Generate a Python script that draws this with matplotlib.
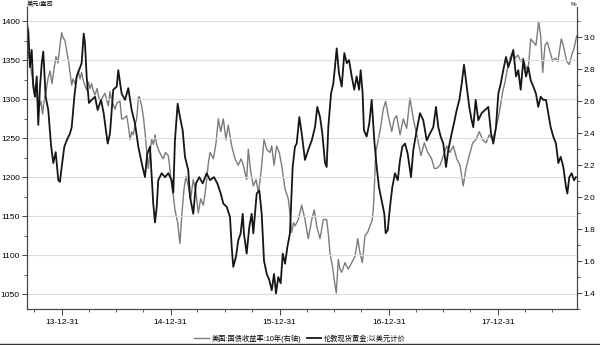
import pandas as pd
import matplotlib
matplotlib.use("Agg")
import matplotlib.pyplot as plt
import matplotlib.dates as mdates
from matplotlib.ticker import MultipleLocator, FormatStrFormatter
from matplotlib.lines import Line2D

plt.rcParams['font.family'] = ['Liberation Sans', 'Noto Sans CJK SC', 'DejaVu Sans']

# London spot gold, USD/oz (left axis) - time as decimal year
gold_t = [2013.679, 2013.694, 2013.709, 2013.725, 2013.739, 2013.755, 2013.771, 2013.785, 2013.801, 2013.817,
          2013.831, 2013.853, 2013.877, 2013.902, 2013.923, 2013.945, 2013.969, 2013.984, 2014.000, 2014.024,
          2014.046, 2014.076, 2014.092, 2014.116, 2014.138, 2014.159, 2014.183, 2014.202, 2014.214, 2014.229,
          2014.250, 2014.275, 2014.306, 2014.330, 2014.361, 2014.385, 2014.422, 2014.443, 2014.473, 2014.505,
          2014.519, 2014.550, 2014.581, 2014.611, 2014.642, 2014.672, 2014.703, 2014.734, 2014.764, 2014.785,
          2014.810, 2014.831, 2014.840, 2014.856, 2014.872, 2014.886, 2014.917, 2014.948, 2014.978, 2015.009,
          2015.024, 2015.039, 2015.064, 2015.085, 2015.110, 2015.131, 2015.161, 2015.177, 2015.207, 2015.232,
          2015.262, 2015.294, 2015.330, 2015.361, 2015.397, 2015.428, 2015.459, 2015.483, 2015.514, 2015.544,
          2015.560, 2015.574, 2015.599, 2015.620, 2015.642, 2015.661, 2015.672, 2015.697, 2015.721, 2015.743,
          2015.758, 2015.789, 2015.813, 2015.835, 2015.856, 2015.881, 2015.905, 2015.927, 2015.948, 2015.966,
          2015.987, 2016.009, 2016.028, 2016.049, 2016.070, 2016.094, 2016.119, 2016.140, 2016.156, 2016.180,
          2016.202, 2016.232, 2016.262, 2016.294, 2016.324, 2016.345, 2016.370, 2016.391, 2016.416, 2016.431,
          2016.446, 2016.471, 2016.492, 2016.507, 2016.523, 2016.544, 2016.569, 2016.593, 2016.615, 2016.636,
          2016.661, 2016.684, 2016.706, 2016.728, 2016.743, 2016.761, 2016.773, 2016.798, 2016.822, 2016.844,
          2016.868, 2016.890, 2016.911, 2016.936, 2016.960, 2016.972, 2016.991, 2017.012, 2017.033, 2017.058,
          2017.083, 2017.104, 2017.125, 2017.150, 2017.174, 2017.205, 2017.226, 2017.257, 2017.287, 2017.317,
          2017.349, 2017.379, 2017.409, 2017.434, 2017.455, 2017.477, 2017.501, 2017.526, 2017.547, 2017.578,
          2017.599, 2017.624, 2017.648, 2017.670, 2017.691, 2017.716, 2017.739, 2017.761, 2017.776, 2017.798,
          2017.822, 2017.853, 2017.883, 2017.914, 2017.939, 2017.960, 2017.984, 2018.006, 2018.028, 2018.051,
          2018.076, 2018.097, 2018.119, 2018.143, 2018.168, 2018.189, 2018.211, 2018.235, 2018.260, 2018.281,
          2018.303, 2018.327, 2018.351, 2018.372, 2018.394, 2018.418, 2018.443, 2018.464, 2018.486, 2018.510,
          2018.535, 2018.556, 2018.578, 2018.602, 2018.627, 2018.639, 2018.657, 2018.679, 2018.700, 2018.718]
gold = [1399, 1386, 1341, 1363, 1316, 1303, 1329, 1267, 1316, 1346,
        1361, 1303, 1286, 1241, 1218, 1232, 1196, 1194, 1213, 1239,
        1247, 1256, 1264, 1303, 1329, 1337, 1346, 1384, 1371, 1329,
        1295, 1299, 1303, 1286, 1299, 1282, 1243, 1256, 1312, 1316,
        1337, 1307, 1299, 1314, 1286, 1269, 1239, 1218, 1200, 1230,
        1239, 1187, 1166, 1142, 1162, 1196, 1205, 1200, 1205, 1196,
        1180, 1247, 1294, 1277, 1260, 1226, 1209, 1175, 1153, 1192,
        1200, 1192, 1205, 1196, 1200, 1192, 1179, 1166, 1162, 1149,
        1110, 1085, 1098, 1119, 1128, 1153, 1128, 1102, 1136, 1153,
        1128, 1179, 1183, 1153, 1093, 1076, 1068, 1055, 1076, 1051,
        1072, 1064, 1102, 1089, 1110, 1128, 1213, 1239, 1243, 1277,
        1256, 1222, 1235, 1247, 1264, 1290, 1277, 1256, 1218, 1213,
        1264, 1307, 1320, 1341, 1365, 1333, 1316, 1359, 1346, 1350,
        1329, 1312, 1329, 1312, 1337, 1307, 1260, 1252, 1269, 1299,
        1247, 1213, 1187, 1170, 1153, 1128, 1132, 1162, 1187, 1205,
        1196, 1222, 1239, 1243, 1230, 1200, 1235, 1260, 1282, 1273,
        1247, 1256, 1264, 1290, 1264, 1252, 1243, 1213, 1235, 1256,
        1269, 1286, 1299, 1320, 1344, 1316, 1290, 1273, 1264, 1299,
        1273, 1282, 1286, 1290, 1256, 1243, 1264, 1307, 1320, 1337,
        1354, 1341, 1350, 1363, 1329, 1337, 1312, 1350, 1329, 1341,
        1324, 1316, 1307, 1290, 1303, 1299, 1299, 1282, 1264, 1252,
        1243, 1218, 1226, 1213, 1187, 1179, 1200, 1205, 1196, 1200]

# US 10-year treasury yield, % (right axis)
yield_t = [2013.682, 2013.700, 2013.718, 2013.737, 2013.755, 2013.773, 2013.792, 2013.810, 2013.824, 2013.838,
           2013.856, 2013.874, 2013.893, 2013.911, 2013.929, 2013.948, 2013.966, 2013.984, 2014.000, 2014.012,
           2014.030, 2014.049, 2014.061, 2014.076, 2014.092, 2014.104, 2014.122, 2014.140, 2014.152, 2014.168,
           2014.183, 2014.198, 2014.214, 2014.229, 2014.246, 2014.260, 2014.275, 2014.292, 2014.306, 2014.324,
           2014.342, 2014.361, 2014.379, 2014.397, 2014.416, 2014.428, 2014.443, 2014.461, 2014.489, 2014.507,
           2014.535, 2014.550, 2014.565, 2014.596, 2014.613, 2014.627, 2014.642, 2014.657, 2014.672, 2014.688,
           2014.703, 2014.712, 2014.734, 2014.750, 2014.764, 2014.778, 2014.794, 2014.810, 2014.826, 2014.842,
           2014.856, 2014.872, 2014.886, 2014.906, 2014.932, 2014.952, 2014.978, 2014.994, 2015.009, 2015.026,
           2015.039, 2015.064, 2015.076, 2015.085, 2015.101, 2015.122, 2015.140, 2015.161, 2015.183, 2015.207,
           2015.232, 2015.253, 2015.275, 2015.299, 2015.315, 2015.330, 2015.347, 2015.361, 2015.391, 2015.416,
           2015.437, 2015.459, 2015.483, 2015.507, 2015.528, 2015.560, 2015.590, 2015.620, 2015.645, 2015.666,
           2015.697, 2015.712, 2015.734, 2015.758, 2015.783, 2015.804, 2015.819, 2015.835, 2015.856, 2015.881,
           2015.911, 2015.927, 2015.948, 2015.972, 2015.996, 2016.018, 2016.049, 2016.079, 2016.094, 2016.110,
           2016.127, 2016.140, 2016.171, 2016.202, 2016.232, 2016.262, 2016.294, 2016.317, 2016.339, 2016.370,
           2016.400, 2016.431, 2016.448, 2016.461, 2016.483, 2016.501, 2016.519, 2016.538, 2016.553, 2016.569,
           2016.599, 2016.629, 2016.661, 2016.691, 2016.716, 2016.737, 2016.758, 2016.783, 2016.807, 2016.828,
           2016.850, 2016.861, 2016.870, 2016.881, 2016.905, 2016.929, 2016.950, 2016.972, 2016.996, 2017.028,
           2017.051, 2017.073, 2017.104, 2017.134, 2017.165, 2017.195, 2017.226, 2017.257, 2017.296, 2017.327,
           2017.358, 2017.394, 2017.418, 2017.440, 2017.471, 2017.501, 2017.532, 2017.562, 2017.593, 2017.624,
           2017.654, 2017.684, 2017.709, 2017.739, 2017.771, 2017.801, 2017.831, 2017.862, 2017.893, 2017.923,
           2017.954, 2017.984, 2018.015, 2018.046, 2018.067, 2018.088, 2018.113, 2018.138, 2018.161, 2018.186,
           2018.211, 2018.235, 2018.260, 2018.284, 2018.303, 2018.327, 2018.351, 2018.376, 2018.394, 2018.413,
           2018.434, 2018.455, 2018.480, 2018.505, 2018.528, 2018.553, 2018.583, 2018.602, 2018.633, 2018.657,
           2018.679, 2018.700, 2018.725]
yields = [2.95, 2.88, 2.80, 2.72, 2.66, 2.62, 2.56, 2.60, 2.52, 2.60,
          2.66, 2.74, 2.79, 2.71, 2.80, 2.88, 2.84, 2.95, 3.03, 3.00,
          2.98, 2.90, 2.86, 2.78, 2.70, 2.74, 2.71, 2.76, 2.79, 2.74,
          2.78, 2.73, 2.70, 2.67, 2.72, 2.68, 2.71, 2.66, 2.64, 2.68,
          2.62, 2.60, 2.63, 2.65, 2.60, 2.57, 2.66, 2.60, 2.55, 2.59,
          2.60, 2.49, 2.49, 2.51, 2.44, 2.36, 2.41, 2.39, 2.45, 2.49,
          2.62, 2.63, 2.57, 2.50, 2.41, 2.30, 2.18, 2.28, 2.36, 2.33,
          2.39, 2.33, 2.30, 2.27, 2.24, 2.28, 2.26, 2.17, 2.07, 2.00,
          1.92, 1.84, 1.76, 1.71, 1.88, 2.05, 2.13, 2.07, 1.99, 2.11,
          2.03, 1.90, 1.99, 1.95, 2.02, 2.11, 2.22, 2.28, 2.24, 2.34,
          2.49, 2.41, 2.49, 2.36, 2.45, 2.32, 2.24, 2.20, 2.24, 2.20,
          2.11, 2.30, 2.16, 2.07, 2.11, 2.03, 2.10, 2.20, 2.36, 2.30,
          2.28, 2.32, 2.20, 2.32, 2.28, 2.20, 2.05, 1.99, 1.90, 1.78,
          1.84, 1.82, 1.86, 1.95, 1.86, 1.74, 1.86, 1.92, 1.82, 1.74,
          1.86, 1.86, 1.76, 1.65, 1.57, 1.48, 1.40, 1.61, 1.55, 1.53,
          1.59, 1.55, 1.59, 1.63, 1.74, 1.65, 1.59, 1.76, 1.78, 1.82,
          1.86, 1.95, 2.09, 2.28, 2.36, 2.45, 2.55, 2.60, 2.51, 2.41,
          2.49, 2.51, 2.39, 2.49, 2.43, 2.62, 2.49, 2.39, 2.26, 2.34,
          2.28, 2.24, 2.18, 2.18, 2.20, 2.26, 2.32, 2.28, 2.32, 2.24,
          2.20, 2.07, 2.18, 2.26, 2.34, 2.36, 2.41, 2.36, 2.34, 2.39,
          2.36, 2.43, 2.53, 2.66, 2.72, 2.80, 2.87, 2.91, 2.87, 2.89,
          2.85, 2.87, 2.80, 2.83, 2.99, 2.97, 2.95, 3.10, 3.01, 2.78,
          2.95, 2.97, 2.91, 2.85, 2.87, 2.85, 2.99, 2.95, 2.85, 2.83,
          2.89, 2.93, 3.01]

gold_label = "伦敦现货黄金:以美元计价"
yield_label = "美国:国债收益率:10年(右轴)"


def to_dates(years):
    s = pd.Series(years)
    base = pd.Timestamp("2013-12-31")
    return base + pd.to_timedelta((s - 2014.0) * 365.25, unit="D")


gold_dates = to_dates(gold_t)
yield_dates = to_dates(yield_t)

fig = plt.figure(figsize=(6.0, 3.45), dpi=100)
ax = fig.add_axes([0.0445, 0.1043, 0.9167, 0.8754])
ax2 = ax.twinx()

# gold line drawn above the yield line
ax.set_zorder(ax2.get_zorder() + 1)
ax.patch.set_visible(False)

ax2.plot(yield_dates, yields, color="#7c7c7c", lw=1.0, label=yield_label)
ax.plot(gold_dates, gold, color="#161616", lw=1.3, label=gold_label)

ax.set_xlim(to_dates([2013.679])[0], to_dates([2018.725])[0])
ax.set_ylim(1031, 1418)
ax2.set_ylim(1.30, 3.19)

# axes styling
ax.yaxis.set_major_locator(MultipleLocator(50))
ax.yaxis.set_minor_locator(MultipleLocator(25))
ax.grid(axis="y", color="#dcdcdc", lw=0.8)
ax.set_axisbelow(True)
ax2.yaxis.set_major_locator(MultipleLocator(0.2))
ax2.yaxis.set_minor_locator(MultipleLocator(0.1))
ax2.yaxis.set_major_formatter(FormatStrFormatter("%.1f"))

ax.xaxis.set_major_locator(mdates.MonthLocator(bymonth=12, bymonthday=31))
ax.xaxis.set_minor_locator(mdates.MonthLocator(bymonth=[3, 6, 9], bymonthday=-1))
ax.xaxis.set_major_formatter(mdates.DateFormatter("%y-%m-%d"))

for a in (ax, ax2):
    a.spines["top"].set_visible(False)
    for s in ("left", "right", "bottom"):
        a.spines[s].set_color("#444444")
        a.spines[s].set_linewidth(0.8)
    a.tick_params(which="major", length=3.5, width=0.7, color="#444444", labelsize=6, pad=1.5)
    a.tick_params(which="minor", length=2, width=0.6, color="#444444")
ax.tick_params(axis="x", which="major", length=4, pad=3)

ax.text(0.0, 1.0, "美元/盎司", transform=ax.transAxes, fontsize=4.5, ha="left", va="bottom")
ax2.text(1.0, 1.0, "%", transform=ax2.transAxes, fontsize=4.5, ha="right", va="bottom")

handles = [Line2D([], [], color="#7c7c7c", lw=1.0), Line2D([], [], color="#161616", lw=1.3)]
fig.legend(handles, [yield_label, gold_label], loc="lower center", bbox_to_anchor=(0.5, -0.012),
           ncol=2, frameon=False, fontsize=5.2, handlelength=2.0, handletextpad=0.4, columnspacing=0.8)

fig.add_artist(Line2D([0.0, 1.0], [0.004, 0.004], color="#333333", lw=1.0, transform=fig.transFigure))

fig.savefig("out.png", dpi=100)
